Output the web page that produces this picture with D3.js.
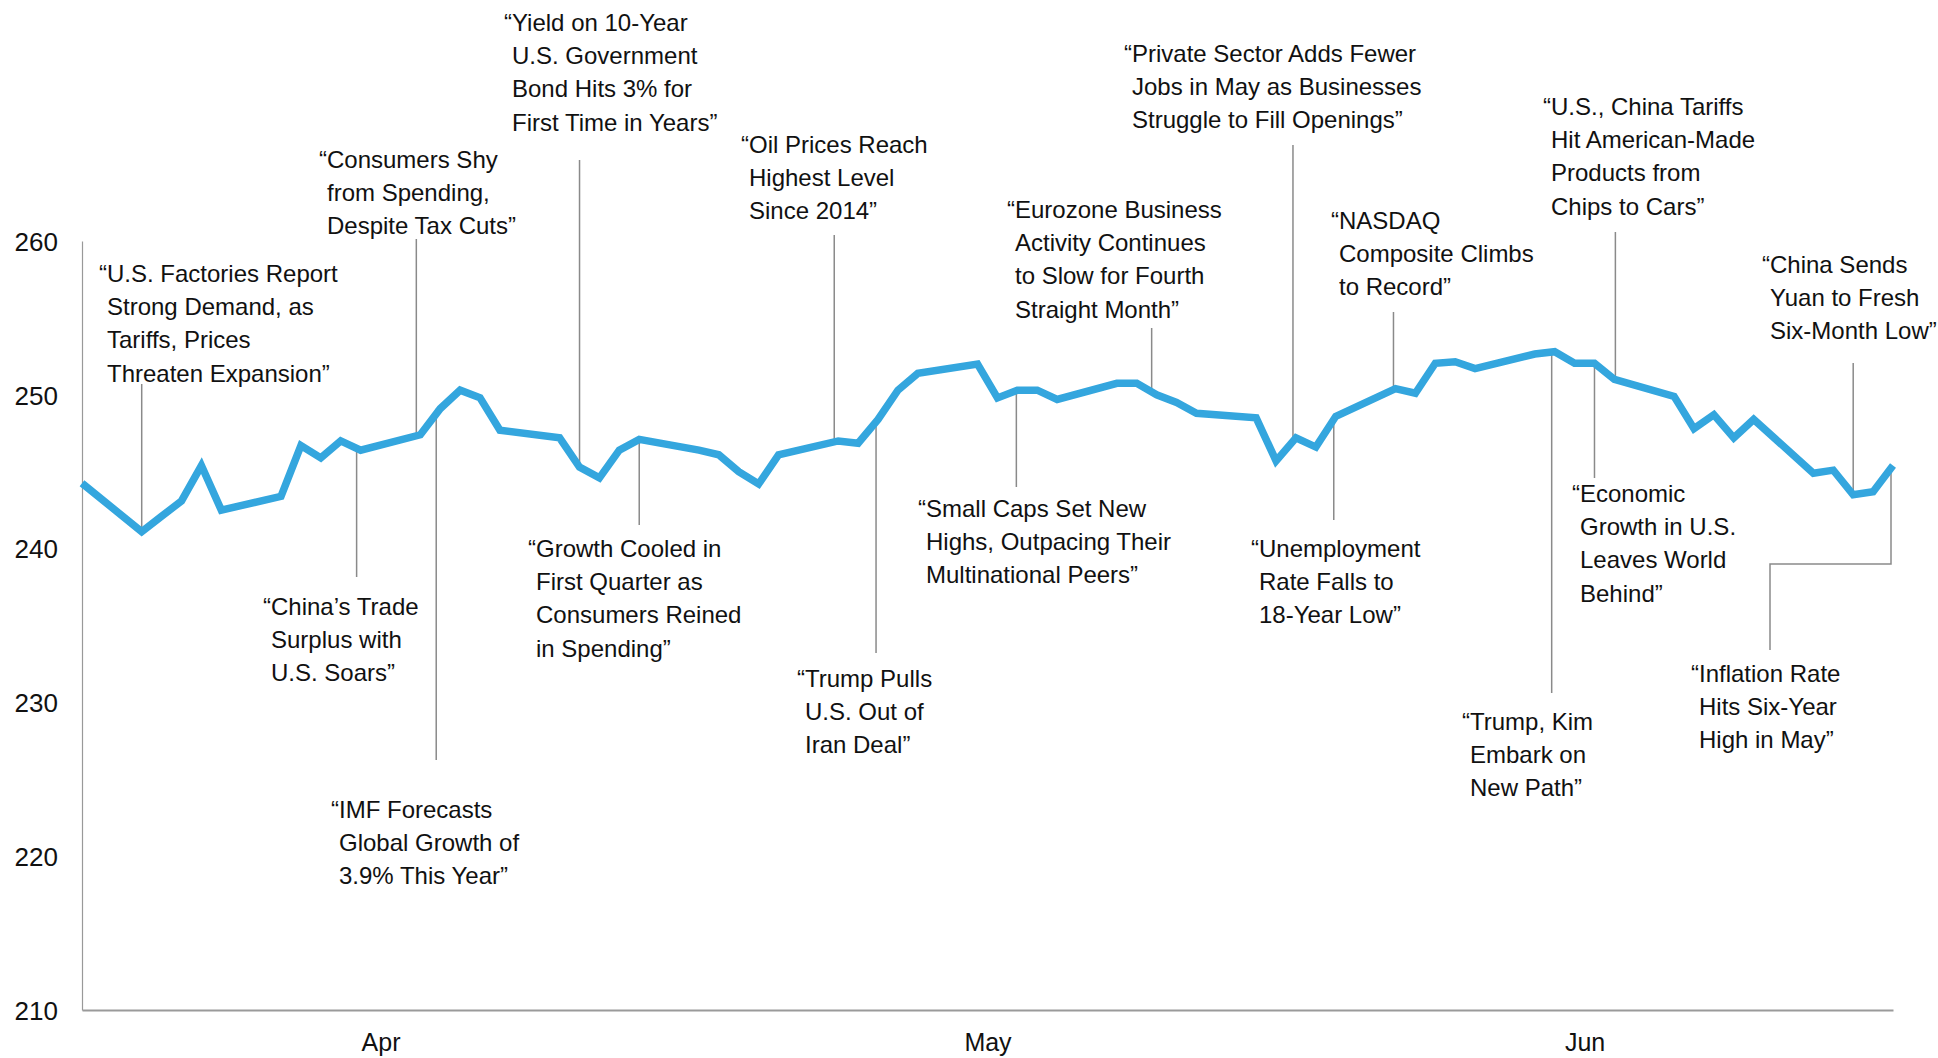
<!DOCTYPE html>
<html><head><meta charset="utf-8">
<script src="https://cdn.jsdelivr.net/npm/d3@7"></script>
<style>
html,body{margin:0;padding:0;background:#fff;}
svg{display:block;font-family:"Liberation Sans",Arial,Helvetica,sans-serif;}
</style></head><body>
<svg id="chart" width="1938" height="1058"></svg>
<script>
// ---------- data ----------
const dates = [
  "2018-03-30","2018-04-02","2018-04-03","2018-04-04","2018-04-05","2018-04-06",
  "2018-04-09","2018-04-10","2018-04-11","2018-04-12","2018-04-13",
  "2018-04-16","2018-04-17","2018-04-18","2018-04-19","2018-04-20",
  "2018-04-23","2018-04-24","2018-04-25","2018-04-26","2018-04-27",
  "2018-04-30","2018-05-01","2018-05-02","2018-05-03","2018-05-04",
  "2018-05-07","2018-05-08","2018-05-09","2018-05-10","2018-05-11",
  "2018-05-14","2018-05-15","2018-05-16","2018-05-17","2018-05-18",
  "2018-05-21","2018-05-22","2018-05-23","2018-05-24","2018-05-25",
  "2018-05-28","2018-05-29","2018-05-30","2018-05-31","2018-06-01",
  "2018-06-04","2018-06-05","2018-06-06","2018-06-07","2018-06-08",
  "2018-06-11","2018-06-12","2018-06-13","2018-06-14","2018-06-15",
  "2018-06-18","2018-06-19","2018-06-20","2018-06-21","2018-06-22",
  "2018-06-25","2018-06-26","2018-06-27","2018-06-28","2018-06-29"
];
const values = [
  244.25, 241.1, 242.1, 243.1, 245.4, 242.5,
  243.4, 246.7, 245.9, 247.0, 246.4,
  247.4, 249.1, 250.3, 249.8, 247.7,
  247.2, 245.3, 244.6, 246.4, 247.1,
  246.4, 246.1, 245.0, 244.2, 246.1,
  247.0, 246.85, 248.4, 250.3, 251.4,
  252.0, 249.8, 250.3, 250.3, 249.7,
  250.75, 250.75, 250.0, 249.5, 248.8,
  248.5, 245.7, 247.2, 246.6, 248.6,
  250.4, 250.1, 252.05, 252.15, 251.7,
  252.65, 252.8, 252.05, 252.05, 251.0,
  249.9, 247.8, 248.7, 247.2, 248.4,
  244.9, 245.1, 243.5, 243.7, 245.4
];
const yTickValues = [210, 220, 230, 240, 250, 260];
const monthLabels = ["Apr", "May", "Jun"];
const monthLabelDates = ["2018-04-14T00:00:00Z", "2018-05-14T12:00:00Z", "2018-06-13T12:00:00Z"];

const annotationDates = [
  "2018-04-02","2018-04-16","2018-04-24","2018-05-07","2018-05-23","2018-05-30",
  "2018-06-04","2018-06-15","2018-06-27","2018-04-13","2018-04-17","2018-04-27",
  "2018-05-09","2018-05-16","2018-06-01","2018-06-12","2018-06-14","2018-06-29"
];
const annotationTexts = [
  ["\u201CU.S. Factories Report","Strong Demand, as","Tariffs, Prices","Threaten Expansion\u201D"],
  ["\u201CConsumers Shy","from Spending,","Despite Tax Cuts\u201D"],
  ["\u201CYield on 10-Year","U.S. Government","Bond Hits 3% for","First Time in Years\u201D"],
  ["\u201COil Prices Reach","Highest Level","Since 2014\u201D"],
  ["\u201CEurozone Business","Activity Continues","to Slow for Fourth","Straight Month\u201D"],
  ["\u201CPrivate Sector Adds Fewer","Jobs in May as Businesses","Struggle to Fill Openings\u201D"],
  ["\u201CNASDAQ","Composite Climbs","to Record\u201D"],
  ["\u201CU.S., China Tariffs","Hit American-Made","Products from","Chips to Cars\u201D"],
  ["\u201CChina Sends","Yuan to Fresh","Six-Month Low\u201D"],
  ["\u201CChina\u2019s Trade","Surplus with","U.S. Soars\u201D"],
  ["\u201CIMF Forecasts","Global Growth of","3.9% This Year\u201D"],
  ["\u201CGrowth Cooled in","First Quarter as","Consumers Reined","in Spending\u201D"],
  ["\u201CTrump Pulls","U.S. Out of","Iran Deal\u201D"],
  ["\u201CSmall Caps Set New","Highs, Outpacing Their","Multinational Peers\u201D"],
  ["\u201CUnemployment","Rate Falls to","18-Year Low\u201D"],
  ["\u201CTrump, Kim","Embark on","New Path\u201D"],
  ["\u201CEconomic","Growth in U.S.","Leaves World","Behind\u201D"],
  ["\u201CInflation Rate","Hits Six-Year","High in May\u201D"]
];

// ---------- layout (annotation placement, px) ----------
const annotationLayout = [
  {tx: 99,   ty: 282, end: 384, dx: 0},
  {tx: 319,  ty: 168, end: 239, dx: -4},
  {tx: 504,  ty: 31,  end: 160, dx: 0},
  {tx: 741,  ty: 153, end: 235, dx: -4},
  {tx: 1007, ty: 218, end: 328, dx: -5},
  {tx: 1124, ty: 62,  end: 145, dx: -3},
  {tx: 1331, ty: 229, end: 312, dx: -2},
  {tx: 1543, ty: 115, end: 232, dx: 1},
  {tx: 1762, ty: 273, end: 363, dx: 0},
  {tx: 263,  ty: 615, end: 577, dx: -4},
  {tx: 331,  ty: 818, end: 760, dx: -4},
  {tx: 528,  ty: 557, end: 525, dx: 0},
  {tx: 797,  ty: 687, end: 653, dx: -2},
  {tx: 918,  ty: 517, end: 487, dx: -1},
  {tx: 1251, ty: 557, end: 520, dx: -2},
  {tx: 1462, ty: 730, end: 693, dx: -3},
  {tx: 1572, ty: 502, end: 478, dx: 0},
  {tx: 1691, ty: 682, end: 650, dx: -2, elbowX: 1770, elbowY: 564}
];

const mLeft = 82, mRight = 1893, mTop = 241, mBottom = 1010;
const lineH = 33.2;

const parse = d3.utcParse("%Y-%m-%d");
const data = dates.map((d, i) => ({date: parse(d), value: values[i]}));

const x = d3.scaleUtc()
  .domain([parse("2018-03-30"), parse("2018-06-29")])
  .range([mLeft, mRight]);
const y = d3.scaleLinear().domain([210, 260]).range([mBottom, mTop]);

const svg = d3.select("#chart");

// y axis
const yAxis = d3.axisLeft(y).tickValues(yTickValues).tickSize(0).tickPadding(24).tickFormat(d3.format("d"));
const gy = svg.append("g").attr("transform", `translate(${mLeft},0)`).call(yAxis);
gy.select(".domain").attr("stroke", "#999").attr("stroke-width", 1.2);
gy.selectAll("text").attr("font-size", 26).attr("fill", "#111")
  .attr("font-family", '"Liberation Sans",Arial,sans-serif').attr("dy", "0.36em");

// x axis
const xAxis = d3.axisBottom(x)
  .tickValues(monthLabelDates.map(d => new Date(d)))
  .tickFormat((d, i) => monthLabels[i])
  .tickSize(0).tickPadding(23);
const gx = svg.append("g").attr("transform", `translate(0,${mBottom})`).call(xAxis);
gx.select(".domain").attr("stroke", "#9a9a9a").attr("stroke-width", 2.2);
gx.selectAll("text").attr("font-size", 25).attr("fill", "#111")
  .attr("font-family", '"Liberation Sans",Arial,sans-serif');

// leader lines
const valueAt = ds => {
  const t = parse(ds);
  const p = data.find(d => +d.date === +t);
  return p ? p.value : null;
};
const gLead = svg.append("g").attr("fill", "none").attr("stroke", "#8a8a8a").attr("stroke-width", 1.5);
annotationDates.forEach((ds, i) => {
  const L = annotationLayout[i];
  const ax = x(parse(ds)) + (L.dx || 0), ay = y(valueAt(ds));
  let p;
  if (L.elbowX !== undefined) {
    p = `M${L.elbowX},${L.end}V${L.elbowY}H${ax}V${ay}`;
  } else {
    p = `M${ax},${L.end}V${ay}`;
  }
  gLead.append("path").attr("d", p);
});

// main line
const line = d3.line().x(d => x(d.date)).y(d => y(d.value));
svg.append("path").datum(data)
  .attr("fill", "none").attr("stroke", "#34a6de").attr("stroke-width", 7.5)
  .attr("stroke-linejoin", "miter").attr("stroke-miterlimit", 3)
  .attr("d", line);

// annotation texts
const tmp = svg.append("text").attr("font-size", 24).text("\u201C");
const qw = tmp.node().getComputedTextLength();
tmp.remove();
const gText = svg.append("g").attr("font-size", 24).attr("fill", "#111");
annotationTexts.forEach((lines, i) => {
  const L = annotationLayout[i];
  lines.forEach((s, j) => {
    gText.append("text")
      .attr("x", j === 0 ? L.tx : L.tx + qw)
      .attr("y", L.ty + j * lineH)
      .text(s);
  });
});
</script>
</body></html>
